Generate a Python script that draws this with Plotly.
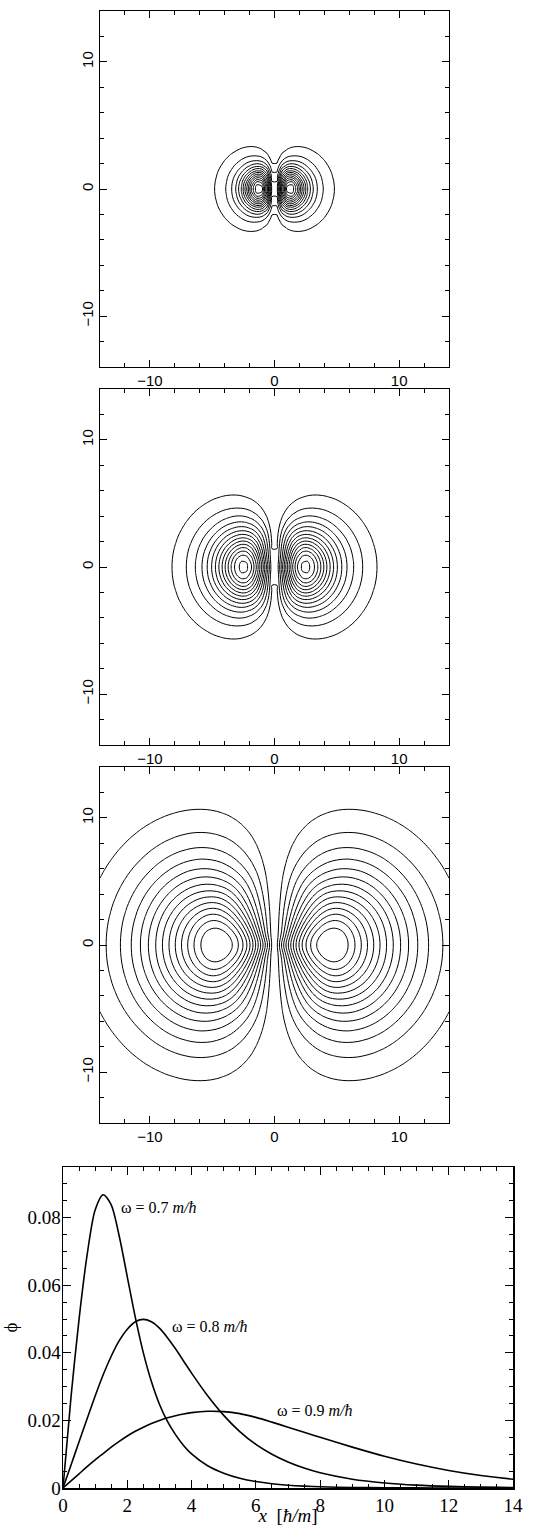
import numpy as np
import plotly.graph_objects as go

# ---- radial profiles (x in hbar/m, phi) ----
x_prof = [0, 0.25, 0.5, 0.75, 1.0, 1.25, 1.5, 1.75, 2.0, 2.25, 2.5, 2.75, 3.0, 3.25,
          3.5, 3.75, 4.0, 4.5, 5.0, 5.5, 6.0, 6.5, 7.0, 7.5, 8.0, 9.0, 10.0, 11.0,
          12.0, 13.0, 14.0, 16.0, 18.0, 20.0]
phi_07 = [0, 0.027, 0.050, 0.069, 0.0823, 0.0868, 0.0838, 0.0745, 0.0625, 0.0505,
          0.0400, 0.0315, 0.0248, 0.0197, 0.0158, 0.0126, 0.0101, 0.0066, 0.0044,
          0.0029, 0.0019, 0.00125, 0.00083, 0.00055, 0.00036, 0.00016, 0.00007,
          0.00003, 0.000013, 0.000006, 0.000003, 0.0000006, 0.0000001, 0.00000002]
phi_08 = [0, 0.0068, 0.0137, 0.0205, 0.0272, 0.0335, 0.0390, 0.0436, 0.0470, 0.0492,
          0.0499, 0.0492, 0.0473, 0.0445, 0.0412, 0.0376, 0.0340, 0.0273, 0.0215,
          0.0167, 0.0129, 0.0100, 0.0077, 0.0059, 0.0045, 0.0026, 0.0015, 0.00085,
          0.00048, 0.00027, 0.00015, 0.00005, 0.000015, 0.000005]
phi_09 = [0, 0.0021, 0.0042, 0.0063, 0.0083, 0.0102, 0.0121, 0.0138, 0.0154, 0.0168,
          0.0180, 0.0191, 0.0200, 0.0208, 0.0214, 0.0219, 0.0223, 0.0227, 0.0226,
          0.0220, 0.0209, 0.0195, 0.0180, 0.0165, 0.0150, 0.0121, 0.0094, 0.0071,
          0.0052, 0.0037, 0.0026, 0.0012, 0.00055, 0.00025]

# contour levels (first level, spacing, number of lines)
level_start = [0.0052, 0.0040, 0.0016]
level_step = [0.0058, 0.0034, 0.0015]
level_count = [14, 14, 14]
angular_mix = [0.85, 0.75, 0.58]
GRID_N = 70   # sampling of the maps (no node on x = 0, as in the original)

omega_labels = ["ω = 0.7 <i>m/ħ</i>", "ω = 0.8 <i>m/ħ</i>", "ω = 0.9 <i>m/ħ</i>"]
label_x = [1.74, 3.33, 6.6]
label_y = [0.0829, 0.0477, 0.0228]

contour_ticks = [-10, 0, 10]
phi_ticks = [0, 0.02, 0.04, 0.06, 0.08]
phi_ticktext = ["0", "0.02", "0.04", "0.06", "0.08"]
x_ticks = [0, 2, 4, 6, 8, 10, 12, 14]

profiles = [phi_07, phi_08, phi_09]

# ---- page geometry (pixels) ----
W, H = 533, 1526
panel_x = (100, 449)
panel_y = [(11, 367), (389, 745), (767, 1123)]
line_x = (63, 513)
line_y = (1167, 1488)


def xdom(a, b):
    return [a / W, b / W]


def ydom(t, b):
    return [1 - b / H, 1 - t / H]


fig = go.Figure()

grid = np.linspace(-14, 14, GRID_N)
GX, GY = np.meshgrid(grid, grid)
R = np.sqrt(GX ** 2 + GY ** 2)
with np.errstate(invalid="ignore", divide="ignore"):
    C2 = np.where(R > 0, (GX / R) ** 2, 1.0)
xp = np.array(x_prof)

for i, prof in enumerate(profiles):
    p = np.array(prof)
    # phi(r)/r, interpolated in log space, times |x|  ->  phi(r) |cos(theta)|
    g = p.copy()
    g[1:] = p[1:] / xp[1:]
    g[0] = p[1] / xp[1]
    logg = np.log(np.maximum(g, 1e-14))
    gr = np.exp(np.interp(R, xp, logg))
    a = angular_mix[i]
    Z = gr * np.abs(GX) * (a + (1 - a) * C2)
    s0, ds, n = level_start[i], level_step[i], level_count[i]
    k = i + 1
    fig.add_trace(go.Contour(
        x=grid, y=grid, z=Z,
        contours=dict(start=s0, end=s0 + ds * (n - 1) + ds * 0.01,
                      size=ds, coloring="lines"),
        colorscale=[[0, "black"], [1, "black"]],
        line=dict(width=1, smoothing=1),
        showscale=False, hoverinfo="skip",
        xaxis="x" if k == 1 else f"x{k}", yaxis="y" if k == 1 else f"y{k}",
    ))

for prof in profiles:
    fig.add_trace(go.Scatter(
        x=x_prof, y=prof, mode="lines",
        line=dict(color="black", width=1.6, shape="spline", smoothing=0.8),
        xaxis="x4", yaxis="y4", hoverinfo="skip", showlegend=False,
    ))

sans = dict(family="Liberation Sans", size=15, color="black")
serif = dict(family="Liberation Serif", size=19, color="black")

layout = dict(width=W, height=H, margin=dict(l=0, r=0, t=0, b=0, autoexpand=False),
              paper_bgcolor="white", plot_bgcolor="white", showlegend=False)

for i, (t, b) in enumerate(panel_y):
    k = i + 1
    sx = "" if k == 1 else str(k)
    common = dict(range=[-14, 14], tickmode="array", tickvals=contour_ticks,
                  ticks="inside", ticklen=7, tickwidth=1, tickcolor="black",
                  minor=dict(dtick=2, tick0=0, ticks="inside", ticklen=4,
                             tickwidth=1, tickcolor="black"),
                  showline=True, linecolor="black", linewidth=1, mirror="allticks",
                  showgrid=False, zeroline=False, tickfont=sans, automargin=False)
    layout["xaxis" + sx] = dict(common, domain=xdom(*panel_x), anchor="y" + sx)
    layout["yaxis" + sx] = dict(common, domain=ydom(t, b), anchor="x" + sx,
                                tickangle=-90)

layout["xaxis4"] = dict(range=[0, 14], tickmode="array", tickvals=x_ticks,
                        ticks="inside", ticklen=8, tickwidth=1, tickcolor="black",
                        minor=dict(dtick=0.5, tick0=0, ticks="inside", ticklen=4,
                                   tickwidth=1, tickcolor="black"),
                        showline=True, linecolor="black", linewidth=1.5,
                        mirror="allticks", showgrid=False, zeroline=False,
                        tickfont=serif, domain=xdom(*line_x), anchor="y4",
                        automargin=False,
                        title=dict(text="<i>x</i>\u00a0\u00a0[<i>ħ/m</i>]",
                                   font=serif, standoff=2))
layout["yaxis4"] = dict(range=[0, 0.095], tickmode="array", tickvals=phi_ticks,
                        ticktext=phi_ticktext,
                        ticks="inside", ticklen=8, tickwidth=1, tickcolor="black",
                        minor=dict(dtick=0.005, tick0=0, ticks="inside", ticklen=4,
                                   tickwidth=1, tickcolor="black"),
                        showline=True, linecolor="black", linewidth=1.5,
                        mirror="allticks", showgrid=False, zeroline=False,
                        tickfont=serif, domain=ydom(*line_y), anchor="x4",
                        automargin=False, ticklabelstandoff=-3,
                        title=dict(text="ϕ", font=serif, standoff=6))

layout["annotations"] = [
    dict(x=label_x[j], y=label_y[j], xref="x4", yref="y4", text=omega_labels[j],
         showarrow=False, xanchor="left", yanchor="middle",
         font=dict(family="Liberation Serif", size=16, color="black"))
    for j in range(3)
]

fig.update_layout(**layout)
fig.write_html("out.html",
               config={"displayModeBar": False, "staticPlot": True},
               post_script="document.body.style.margin='0';"
                           "document.body.style.padding='0';")
